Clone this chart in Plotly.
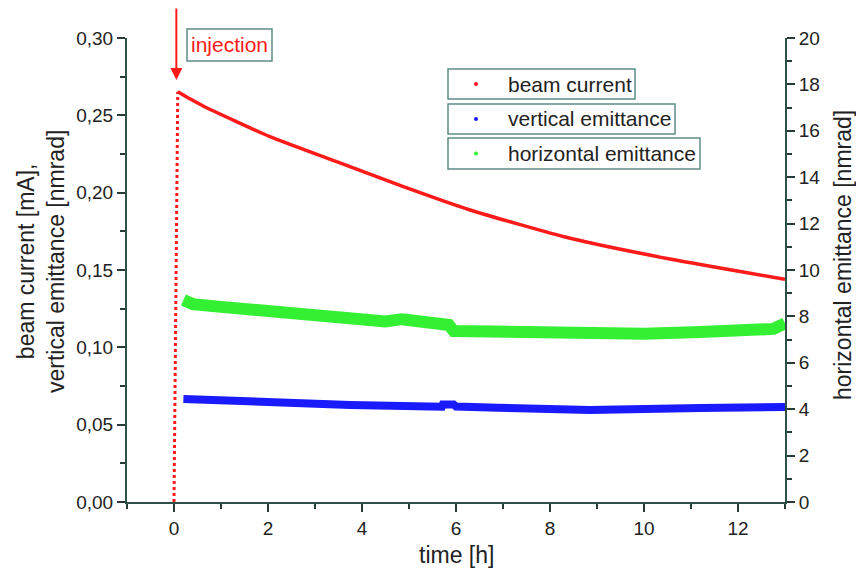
import plotly.graph_objects as go

# ---------------- data ----------------
inj_time = [0.0, 0.08]
inj_current = [0.0, 0.2653]

current_time = [0.08, 0.35, 0.62, 1.33, 2.04, 3.46, 4.88, 6.3, 8.43, 10.55, 13.0]
beam_current = [0.2653, 0.2605, 0.2560, 0.2459, 0.2362, 0.2200, 0.2039, 0.1888, 0.1705, 0.1571, 0.1440]

vert_time = [0.2, 1.6, 3.75, 5.7, 5.72, 5.95, 6.0, 6.9, 8.85, 11.2, 13.0]
vert_emit = [0.0666, 0.0647, 0.0627, 0.0616, 0.0630, 0.0630, 0.0617, 0.0610, 0.0595, 0.0608, 0.0614]

horiz_time = [0.2, 0.4, 1.0, 1.6, 2.5, 3.75, 4.5, 4.85, 5.2, 5.85, 5.95, 6.9, 8.85, 10.0, 11.2, 12.3, 12.75, 13.0]
horiz_emit = [8.71, 8.53, 8.41, 8.28, 8.15, 7.84, 7.78, 7.88, 7.76, 7.63, 7.37, 7.33, 7.20, 7.25, 7.33, 7.40, 7.46, 7.70]

series_names = ["beam current", "vertical emittance", "horizontal emittance"]
x_tickvals = [0, 2, 4, 6, 8, 10, 12]

# ---------------- styling ----------------
W, H = 856, 574
ML, MR, MT, MB = 127, 71, 38, 72
FONT = "Liberation Sans, Arial, sans-serif"
AXIS_COL = "#2f5048"
TICK_COL = "#2a3a36"
BOX_COL = "#5f8c86"
RED = "#ff1a1a"
BLUE = "#1a1aff"
GREEN = "#33f033"


def px(x):
    return (x - ML) / (W - ML - MR)


def py(y):
    return (H - MB - y) / (H - MT - MB)


fig = go.Figure()

fig.add_trace(go.Scatter(x=inj_time, y=inj_current, mode="lines",
                         line=dict(color=RED, width=3, dash="3px,3px"),
                         showlegend=False, hoverinfo="skip"))
fig.add_trace(go.Scatter(x=current_time, y=beam_current, mode="lines",
                         line=dict(color=RED, width=3.5, shape="spline", smoothing=0.6),
                         name=series_names[0], showlegend=False))
fig.add_trace(go.Scatter(x=vert_time, y=vert_emit, mode="lines",
                         line=dict(color=BLUE, width=8),
                         name=series_names[1], showlegend=False))
fig.add_trace(go.Scatter(x=horiz_time, y=horiz_emit, mode="lines",
                         line=dict(color=GREEN, width=12),
                         name=series_names[2], showlegend=False, yaxis="y2"))

tickfont = dict(family=FONT, size=19, color="#222222")

fig.update_layout(
    width=W, height=H,
    margin=dict(l=ML, r=MR, t=MT, b=MB, pad=0),
    paper_bgcolor="white", plot_bgcolor="white",
    separators=",.",
    showlegend=False,
    xaxis=dict(range=[-1, 13], tickvals=x_tickvals, ticks="outside", ticklen=8,
               tickwidth=2, tickcolor=TICK_COL, showline=True, linecolor=AXIS_COL,
               linewidth=2, showgrid=False, zeroline=False, tickfont=tickfont,
               minor=dict(dtick=1, ticks="outside", ticklen=5, tickwidth=2, tickcolor=TICK_COL)),
    yaxis=dict(range=[0, 0.30], dtick=0.05, tick0=0, tickformat=".2f", ticks="outside",
               ticklen=8, tickwidth=2, tickcolor=TICK_COL, showline=True,
               linecolor=AXIS_COL, linewidth=2, showgrid=False, zeroline=False,
               tickfont=tickfont,
               minor=dict(dtick=0.025, ticks="outside", ticklen=5, tickwidth=2, tickcolor=TICK_COL)),
    yaxis2=dict(range=[0, 20], dtick=2, tick0=0, overlaying="y", side="right",
                ticks="outside", ticklen=8, tickwidth=2, tickcolor=TICK_COL,
                showline=True, linecolor=AXIS_COL, linewidth=2, showgrid=False,
                zeroline=False, tickfont=tickfont,
                minor=dict(dtick=1, ticks="outside", ticklen=5, tickwidth=2, tickcolor=TICK_COL)),
)

title_font = dict(family=FONT, size=23, color="#222222")
annotations = [
    dict(text="time [h]", x=px(456), y=py(555), xref="paper", yref="paper",
         showarrow=False, font=title_font, xanchor="center", yanchor="middle"),
    dict(text="beam current [mA],<br>vertical emittance [nmrad]", x=px(41), y=py(262),
         xref="paper", yref="paper", showarrow=False, font=title_font, textangle=-90,
         xanchor="center", yanchor="middle"),
    dict(text="horizontal emittance [nmrad]", x=px(843), y=py(255), xref="paper",
         yref="paper", showarrow=False, font=title_font, textangle=-90,
         xanchor="center", yanchor="middle"),
    # injection arrow
    dict(text="", x=0.05, y=0.2728, xref="x", yref="y", showarrow=True, ax=0, ay=-73,
         arrowhead=2, arrowsize=1.2, arrowwidth=2, arrowcolor=RED),
    dict(text="injection", x=px(229.5), y=py(45), xref="paper", yref="paper",
         showarrow=False, font=dict(family=FONT, size=21, color=RED),
         xanchor="center", yanchor="middle"),
]

shapes = [
    dict(type="rect", xref="paper", yref="paper", x0=px(187), x1=px(272),
         y0=py(61), y1=py(29), line=dict(color=BOX_COL, width=1.5)),
]

legend_boxes = [(448, 635, 69, 99), (448, 675, 104, 134), (448, 700, 138, 169)]
legend_colors = [RED, BLUE, GREEN]
for name, col, (x0, x1, y0, y1) in zip(series_names, legend_colors, legend_boxes):
    shapes.append(dict(type="rect", xref="paper", yref="paper", x0=px(x0), x1=px(x1),
                       y0=py(y1), y1=py(y0), line=dict(color=BOX_COL, width=1.5)))
    yc = (y0 + y1) / 2
    shapes.append(dict(type="circle", xref="paper", yref="paper", x0=px(474), x1=px(478),
                       y0=py(yc + 2), y1=py(yc - 2), fillcolor=col, line=dict(width=0)))
    annotations.append(dict(text=name, x=px(506), y=py(yc), xref="paper", yref="paper",
                            showarrow=False, xanchor="left", yanchor="middle",
                            font=dict(family=FONT, size=21, color="#222222")))

fig.update_layout(annotations=annotations, shapes=shapes)

fig.write_html("out.html", config={"displayModeBar": False},
               post_script="document.body.style.margin='0';document.body.style.overflow='hidden';")
